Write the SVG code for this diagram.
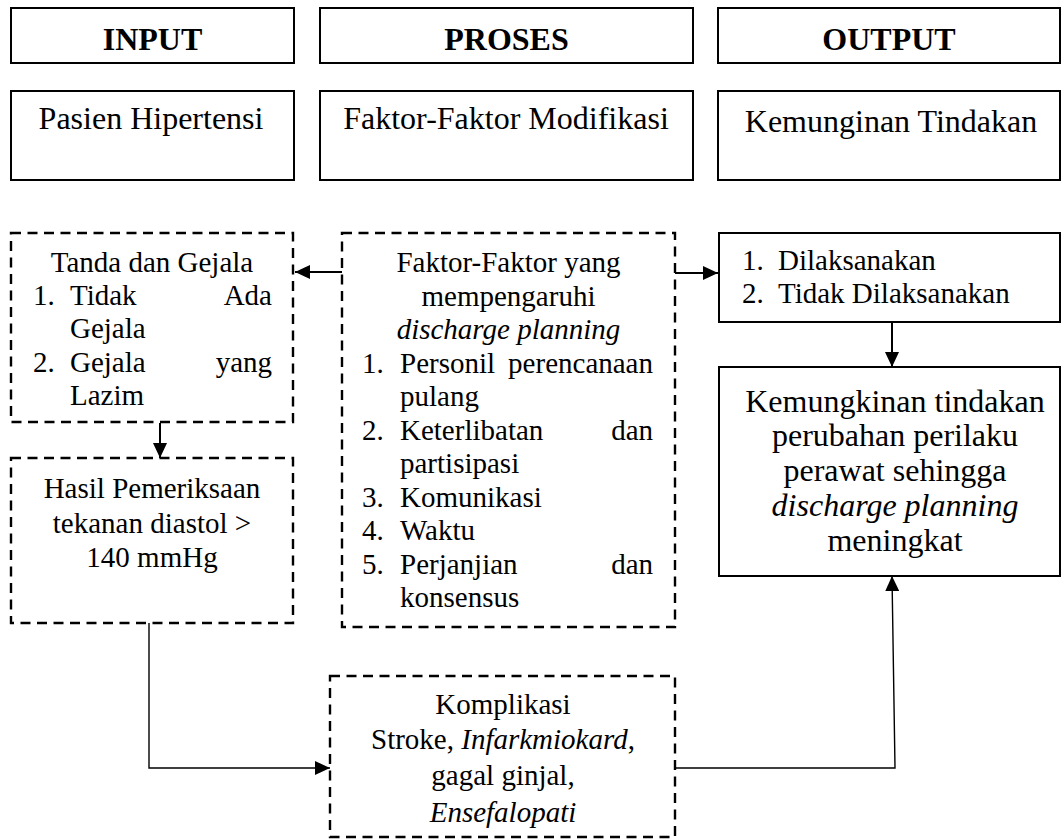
<svg xmlns="http://www.w3.org/2000/svg" width="1062" height="839" viewBox="0 0 1062 839">
<style>
text{font-family:"Liberation Serif","Times New Roman",serif;fill:#000}
.h{font-size:32px;font-weight:bold;text-anchor:middle}
.s{font-size:32px;text-anchor:middle}
.b{font-size:29px}
.c{text-anchor:middle}
.e{text-anchor:end}
.i{font-style:italic}
.solid{fill:#fff;stroke:#000;stroke-width:2}
.dash{fill:#fff;stroke:#000;stroke-width:2.4;stroke-dasharray:10 6.5}
.ln{fill:none;stroke:#000;stroke-width:2}
.ln2{fill:none;stroke:#000;stroke-width:1.4}
</style>
<defs>
<marker id="ah" markerUnits="userSpaceOnUse" markerWidth="16" markerHeight="14" refX="15" refY="7" orient="auto">
<path d="M0,0 L15,7 L0,14 z" fill="#000"/>
</marker>
</defs>
<g id="connectors">
<line class="ln" x1="342" y1="272" x2="295" y2="272" marker-end="url(#ah)"/>
<line class="ln" x1="675" y1="273" x2="718" y2="273" marker-end="url(#ah)"/>
<line class="ln" x1="160" y1="423" x2="160" y2="458" marker-end="url(#ah)"/>
<line class="ln" x1="892" y1="322" x2="892" y2="367" marker-end="url(#ah)"/>
<polyline class="ln2" points="149,623 149,768 330,768" marker-end="url(#ah)"/>
<polyline class="ln2" points="675,768 895,768 892,576" marker-end="url(#ah)"/>
</g>
<g id="input-header">
<rect class="solid" x="11" y="8" width="283" height="55"/>
<text class="h" x="152.5" y="50">INPUT</text>
</g>
<g id="proses-header">
<rect class="solid" x="320" y="8" width="373" height="55"/>
<text class="h" x="506.5" y="50">PROSES</text>
</g>
<g id="output-header">
<rect class="solid" x="718" y="8" width="342" height="55"/>
<text class="h" x="889" y="50">OUTPUT</text>
</g>
<g id="pasien">
<rect class="solid" x="11" y="91" width="283" height="89"/>
<text class="s" x="151" y="129">Pasien Hipertensi</text>
</g>
<g id="faktor-modifikasi">
<rect class="solid" x="320" y="91" width="373" height="89"/>
<text class="s" x="506" y="129">Faktor-Faktor Modifikasi</text>
</g>
<g id="kemunginan">
<rect class="solid" x="718" y="91" width="342" height="89"/>
<text class="s" x="891" y="132">Kemunginan Tindakan</text>
</g>
<g id="tanda-gejala">
<rect class="dash" x="11" y="233" width="282" height="189"/>
<text class="b c" x="152" y="272">Tanda dan Gejala</text>
<text class="b" x="33" y="305">1.</text>
<text class="b" x="70" y="305">Tidak</text>
<text class="b e" x="272" y="305">Ada</text>
<text class="b" x="70" y="338">Gejala</text>
<text class="b" x="33" y="372">2.</text>
<text class="b" x="70" y="372">Gejala</text>
<text class="b e" x="272" y="372">yang</text>
<text class="b" x="70" y="405">Lazim</text>
</g>
<g id="hasil">
<rect class="dash" x="11" y="458" width="282" height="165"/>
<text class="b c" x="152" y="498">Hasil Pemeriksaan</text>
<text class="b c" x="152" y="533">tekanan diastol &gt;</text>
<text class="b c" x="152" y="567">140 mmHg</text>
</g>
<g id="faktor-discharge">
<rect class="dash" x="342" y="233" width="333" height="394"/>
<text class="b c" x="508.5" y="272">Faktor-Faktor yang</text>
<text class="b c" x="508.5" y="305.5">mempengaruhi</text>
<text class="b c i" x="508.5" y="339">discharge planning</text>
<text class="b" x="362" y="372.5">1.</text>
<text class="b" x="400" y="372.5">Personil</text>
<text class="b e" x="653" y="372.5">perencanaan</text>
<text class="b" x="400" y="406">pulang</text>
<text class="b" x="362" y="439.5">2.</text>
<text class="b" x="400" y="439.5">Keterlibatan</text>
<text class="b e" x="653" y="439.5">dan</text>
<text class="b" x="400" y="473">partisipasi</text>
<text class="b" x="362" y="506.5">3.</text>
<text class="b" x="400" y="506.5">Komunikasi</text>
<text class="b" x="362" y="540">4.</text>
<text class="b" x="400" y="540">Waktu</text>
<text class="b" x="362" y="573.5">5.</text>
<text class="b" x="400" y="573.5">Perjanjian</text>
<text class="b e" x="653" y="573.5">dan</text>
<text class="b" x="400" y="607">konsensus</text>
</g>
<g id="dilaksanakan">
<rect class="solid" x="719" y="233" width="341" height="89"/>
<text class="b" x="742" y="270">1.</text>
<text class="b" x="778" y="270">Dilaksanakan</text>
<text class="b" x="742" y="303">2.</text>
<text class="b" x="778" y="303">Tidak Dilaksanakan</text>
</g>
<g id="kemungkinan-tindakan">
<rect class="solid" x="719" y="367" width="341" height="209"/>
<text class="s" x="895" y="412">Kemungkinan tindakan</text>
<text class="s" x="895" y="446">perubahan perilaku</text>
<text class="s" x="895" y="481">perawat sehingga</text>
<text class="s i" x="895" y="516">discharge planning</text>
<text class="s" x="895" y="551">meningkat</text>
</g>
<g id="komplikasi">
<rect class="dash" x="330" y="676" width="345" height="161"/>
<text class="b c" x="503" y="714">Komplikasi</text>
<text class="b c" x="503" y="749">Stroke, <tspan class="i">Infarkmiokard</tspan>,</text>
<text class="b c" x="503" y="785">gagal ginjal,</text>
<text class="b c i" x="503" y="822">Ensefalopati</text>
</g>
</svg>
